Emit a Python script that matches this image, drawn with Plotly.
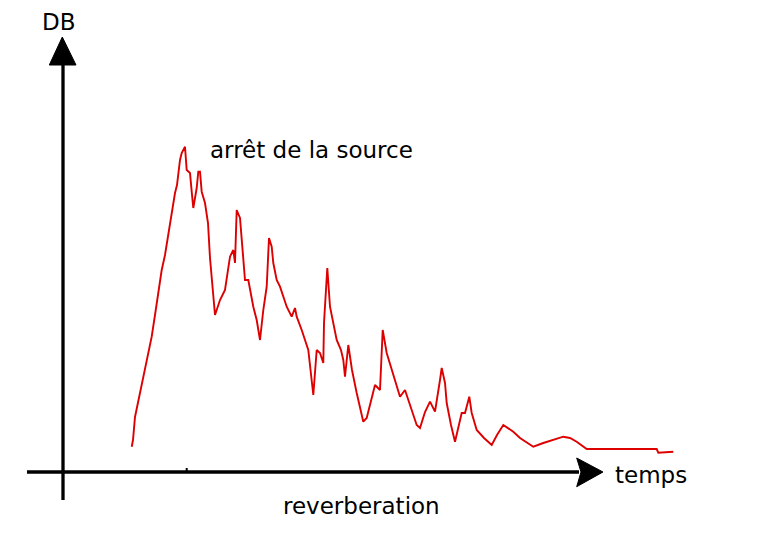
import plotly.graph_objects as go

# Reverberation curve: time (arbitrary units) vs level (arbitrary dB units)
time = [68.7, 70, 72, 75, 78.7, 82, 85, 88.7, 92, 95, 98.7, 102, 105, 108.7, 112, 114,
        117, 118.7, 122, 123.7, 127, 128.7, 130.3, 133.7, 135.3, 137, 138.7, 142, 145, 147,
        152, 157, 162, 167, 170.3, 172, 173.7, 177, 178.7, 182, 185.3, 190.3, 193.7, 197,
        200.3, 203.7, 206, 208.7, 210.3, 213.7, 217, 223.7, 228.7, 232, 233.7, 238.7, 245.3,
        248.7, 250.3, 253.7, 257, 260.3, 261, 264.3, 267, 273.7, 278, 280.3, 282, 285.3, 289,
        293.7, 300.3, 303.7, 308, 312, 317, 319.7, 323.7, 328, 332, 337, 342, 347, 353.7, 357,
        362, 367, 372, 377, 378.7, 382, 383.7, 388, 392, 398.7, 402, 406.3, 408.7, 413.7, 421,
        428.7, 434, 440.3, 450.3, 457, 464, 470.3, 480.3, 490, 500.3, 507, 513.7, 523.7, 593.7,
        595.3, 610.3]
level = [25.3, 32, 55, 70, 85.3, 102, 120, 135.3, 157, 177, 202, 217, 237, 259, 279, 287,
         312, 319, 325.3, 302, 299, 280.3, 264, 284, 300.3, 300.3, 280.3, 269, 249, 214,
         157, 172, 182, 215.3, 222, 209, 262, 254, 232, 192, 192, 165.3, 152, 132,
         162, 185.3, 234, 225.3, 209, 192, 185.3, 165.3, 155.3, 164, 155.3, 142, 122,
         95.3, 77, 122, 119, 109, 149, 204, 165.3, 132, 122, 112, 95.3, 127, 102,
         79, 50.3, 54, 72, 87, 82, 142, 119, 104, 92, 75.3, 82, 67, 47, 44,
         60, 70.3, 60.3, 92, 104, 89, 69, 47, 30.3, 59, 59, 75.3, 59, 42, 34,
         27, 37, 47, 40.3, 34, 29, 25.3, 29, 32, 35.3, 34, 30.3, 23, 23,
         19.3, 20.3]

# Labels
y_label = "DB"
x_label = "temps"
peak_label = "arrêt de la source"
bottom_label = "reverberation"

FONT = "DejaVu Sans, Liberation Sans, Arial, sans-serif"
AX = "#000000"

fig = go.Figure()
fig.add_trace(go.Scatter(x=time, y=level, mode="lines",
                         line=dict(color="#dd0000", width=1.9),
                         hoverinfo="skip", showlegend=False))

shapes = [
    # y axis line
    dict(type="line", x0=0, x1=0, y0=-28, y1=410, line=dict(color=AX, width=3.3)),
    # x axis line
    dict(type="line", x0=-36, x1=516, y0=0, y1=0, line=dict(color=AX, width=3.3)),
    # y arrowhead
    dict(type="path", path="M -0.7 435 L -13.7 407 L 13 407 Z",
         fillcolor=AX, line=dict(color=AX, width=1)),
    # x arrowhead
    dict(type="path", path="M 540 0 L 513.7 14 L 518 0 L 513.7 -14.7 Z",
         fillcolor=AX, line=dict(color=AX, width=1)),
    # small tick
    dict(type="line", x0=123.7, x1=123.7, y0=0, y1=4, line=dict(color=AX, width=2)),
]

annotations = [
    dict(x=-4, y=450.5, text=y_label, showarrow=False, xanchor="center", yanchor="middle",
         borderpad=0, font=dict(family=FONT, size=23, color="#000")),
    dict(x=588, y=-2.5, text=x_label, showarrow=False, xanchor="center", yanchor="middle",
         font=dict(family=FONT, size=23, color="#000")),
    dict(x=248.5, y=322, text=peak_label, showarrow=False, xanchor="center", yanchor="middle",
         font=dict(family=FONT, size=23, color="#000")),
    dict(x=298.7, y=-33.5, text=bottom_label, showarrow=False, xanchor="center", yanchor="middle",
         font=dict(family=FONT, size=23, color="#000")),
]

# The page body has an 8px margin, so the figure is 8px smaller and its
# ranges start 8px further in, to line up with the 758x536 window.
fig.update_layout(
    width=750, height=528,
    margin=dict(l=0, r=0, t=0, b=0),
    paper_bgcolor="white", plot_bgcolor="white",
    xaxis=dict(range=[-55, 695], visible=False, fixedrange=True),
    yaxis=dict(range=[-64, 464], visible=False, fixedrange=True),
    shapes=shapes, annotations=annotations,
    showlegend=False,
)

fig.write_html("out.html", config={"displayModeBar": False})
